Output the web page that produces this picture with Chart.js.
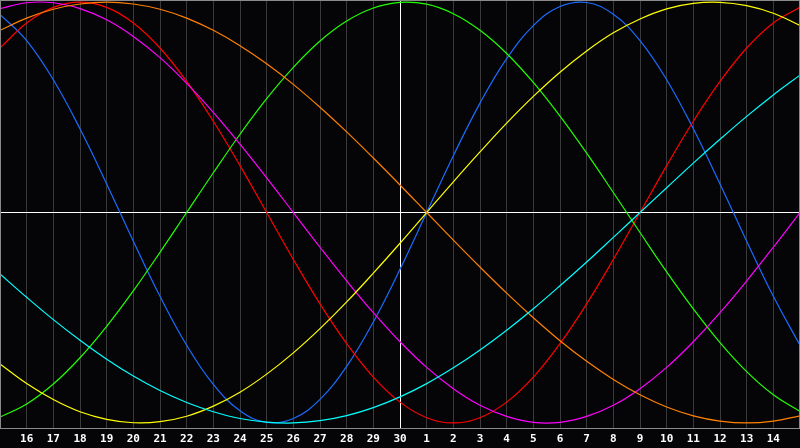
<!DOCTYPE html>
<html>
<head>
<meta charset="utf-8">
<script src="https://cdn.jsdelivr.net/npm/chart.js@4/dist/chart.umd.min.js"></script>
<style>
  html, body { margin: 0; padding: 0; background: #050508; }
  canvas { display: block; background: #050508; }
</style>
</head>
<body>
<canvas id="bio" width="800" height="448"></canvas>
<script>
// days shown, 15th to 15th (ends are not labelled)
var days = ['15','16','17','18','19','20','21','22','23','24','25','26','27','28','29','30',
            '1','2','3','4','5','6','7','8','9','10','11','12','13','14','15'];
var todayIndex = 15;

// cycle values, one per day
var physical = [0.942,0.817,0.631,0.398,0.136,-0.136,-0.398,-0.631,-0.817,-0.942,-0.998,-0.979,-0.888,-0.731,-0.520,-0.270,
                0,0.270,0.520,0.731,0.888,0.979,0.998,0.942,0.817,0.631,0.398,0.136,-0.136,-0.398,-0.631];
var emotional = [0.782,0.901,0.975,1,0.975,0.901,0.782,0.623,0.434,0.223,0,-0.223,-0.434,-0.623,-0.782,-0.901,
                 -0.975,-1,-0.975,-0.901,-0.782,-0.623,-0.434,-0.223,0,0.223,0.434,0.623,0.782,0.901,0.975];
var intellectual = [-0.972,-0.910,-0.815,-0.690,-0.541,-0.372,-0.189,0,0.189,0.372,0.541,0.690,0.815,0.910,0.972,0.999,
                    0.990,0.945,0.866,0.756,0.618,0.458,0.282,0.095,-0.095,-0.282,-0.458,-0.618,-0.756,-0.866,-0.945];
var intuitive = [0.969,0.997,0.997,0.969,0.916,0.837,0.736,0.614,0.476,0.325,0.165,0,-0.165,-0.325,-0.476,-0.614,
                 -0.736,-0.837,-0.916,-0.969,-0.997,-0.997,-0.969,-0.916,-0.837,-0.736,-0.614,-0.476,-0.325,-0.165,0];
var aesthetic = [-0.720,-0.813,-0.889,-0.947,-0.983,-0.999,-0.994,-0.968,-0.920,-0.854,-0.768,-0.667,-0.552,-0.425,-0.288,-0.146,
                 0,0.146,0.288,0.425,0.552,0.667,0.768,0.854,0.920,0.968,0.994,0.999,0.983,0.947,0.889];
var awareness = [0.866,0.924,0.966,0.991,1,0.991,0.966,0.924,0.866,0.793,0.707,0.609,0.5,0.383,0.259,0.131,
                 0,-0.131,-0.259,-0.383,-0.5,-0.609,-0.707,-0.793,-0.866,-0.924,-0.966,-0.991,-1,-0.991,-0.966];
var spiritual = [-0.292,-0.403,-0.509,-0.607,-0.697,-0.777,-0.846,-0.903,-0.947,-0.979,-0.996,-1,-0.989,-0.965,-0.927,-0.876,
                 -0.813,-0.738,-0.653,-0.559,-0.457,-0.348,-0.235,-0.118,0,0.118,0.235,0.348,0.457,0.559,0.653];

var line = function(label, data, color) {
  return {
    label: label,
    data: data,
    borderColor: color,
    borderWidth: 1.2,
    pointRadius: 0,
    tension: 0.4,
    fill: false
  };
};

// grey frame round the plot
var frame = {
  id: 'frame',
  afterDraw: function(chart) {
    var a = chart.chartArea, c = chart.ctx;
    c.save();
    c.strokeStyle = '#8a8a8a';
    c.lineWidth = 1;
    c.strokeRect(a.left + 0.5, a.top + 0.5, a.right - a.left - 1, a.bottom - a.top);
    c.restore();
  }
};

var ctx = document.getElementById('bio');
var bio = new Chart(ctx, {
  type: 'line',
  data: {
    labels: days,
    datasets: [
      line('Spiritual', spiritual, '#00ffff'),
      line('Awareness', awareness, '#ff8000'),
      line('Aesthetic', aesthetic, '#ffff00'),
      line('Intuitive', intuitive, '#ff00ff'),
      line('Intellectual', intellectual, '#22ff00'),
      line('Emotional', emotional, '#ff0000'),
      line('Physical', physical, '#1a6cff')
    ]
  },
  options: {
    responsive: false,
    animation: false,
    devicePixelRatio: 1,
    layout: { padding: 0 },
    plugins: { legend: { display: false }, tooltip: { enabled: false } },
    scales: {
      x: {
        offset: false,
        border: { display: true, color: '#8a8a8a' },
        grid: {
          drawTicks: false,
          color: function(c) { return c.index === todayIndex ? '#ffffff' : '#3a3a3a'; }
        },
        ticks: {
          autoSkip: false,
          maxRotation: 0,
          padding: 5,
          color: '#ffffff',
          font: { family: 'DejaVu Sans Mono', size: 11, weight: 'bold' },
          callback: function(v, i) { return (i === 0 || i === days.length - 1) ? '' : days[i]; }
        },
        afterFit: function(s) {
          s.height = 20;
          s.paddingLeft = 0;
          s.paddingRight = 0;
        }
      },
      y: {
        min: -1.024,
        max: 1.01,
        border: { display: false },
        grid: {
          drawTicks: false,
          color: function(c) { return c.tick && c.tick.value === 0 ? '#ffffff' : 'rgba(0,0,0,0)'; }
        },
        ticks: { display: false, stepSize: 1 },
        afterFit: function(s) { s.width = 0; s.paddingTop = 0; s.paddingBottom = 0; }
      }
    }
  },
  plugins: [frame]
});
</script>
</body>
</html>
